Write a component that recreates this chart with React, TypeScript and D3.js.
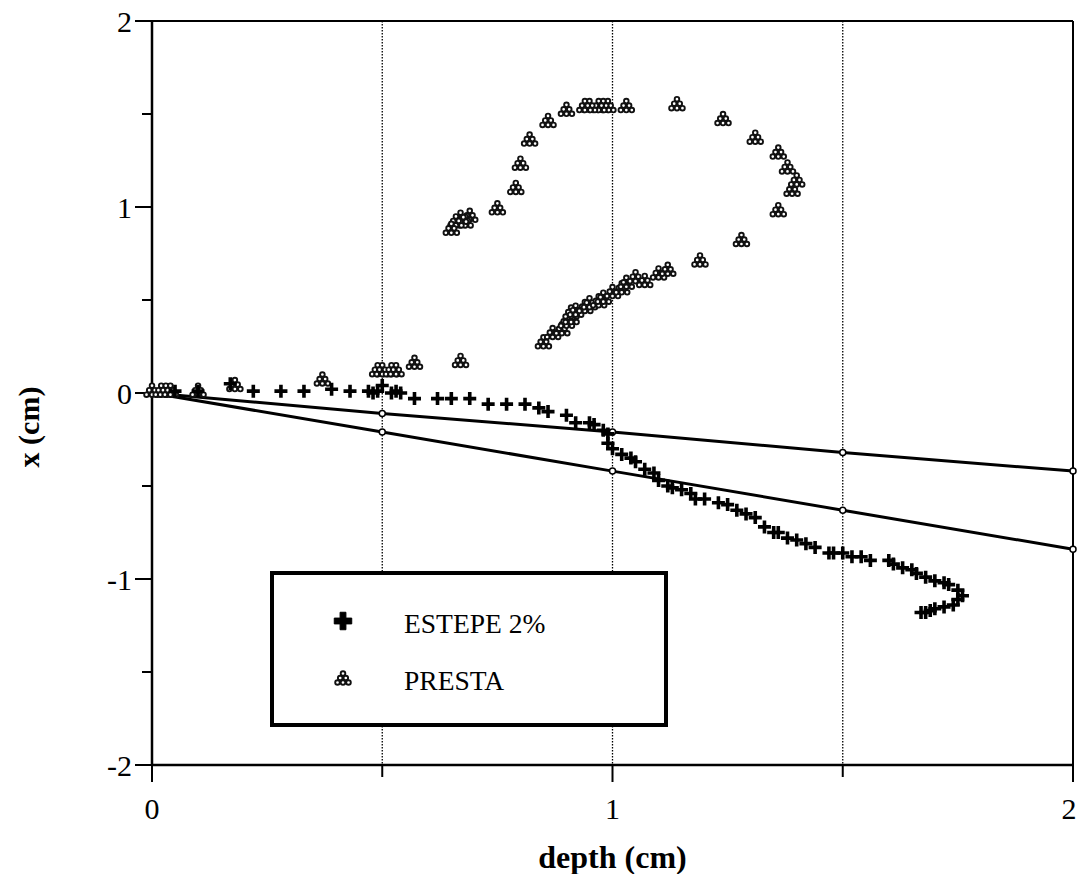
import React from 'react';
import * as d3 from 'd3';

// depth (cm) / x (cm)
const estepeDepth = [
  0.05, 0.1, 0.17, 0.22, 0.28, 0.33, 0.39, 0.43, 0.47, 0.48, 0.49, 0.5, 0.52, 0.53, 0.54,
  0.57, 0.62, 0.65, 0.69, 0.73, 0.77, 0.81, 0.84, 0.86, 0.9, 0.92, 0.95, 0.96, 0.98, 0.99,
  0.99, 1.0, 1.02, 1.04, 1.05, 1.07, 1.09, 1.1, 1.12, 1.13, 1.15, 1.17, 1.18, 1.2, 1.23,
  1.25, 1.27, 1.29, 1.31, 1.33, 1.35, 1.36, 1.38, 1.4, 1.42, 1.44, 1.47, 1.48, 1.5, 1.52,
  1.54, 1.56, 1.6, 1.61, 1.63, 1.65, 1.66, 1.68, 1.7, 1.72, 1.73, 1.75, 1.76, 1.75, 1.74,
  1.72, 1.7, 1.69, 1.68, 1.67,
];
const estepeX = [
  0.01, 0.01, 0.05, 0.01, 0.01, 0.01, 0.02, 0.01, 0.01, 0.0, 0.01, 0.04, 0.0, 0.01, 0.0,
  -0.03, -0.03, -0.03, -0.03, -0.06, -0.06, -0.06, -0.08, -0.1, -0.12, -0.16, -0.16, -0.17, -0.2, -0.22,
  -0.27, -0.3, -0.33, -0.35, -0.37, -0.41, -0.43, -0.47, -0.5, -0.51, -0.52, -0.54, -0.57, -0.57, -0.59,
  -0.6, -0.63, -0.65, -0.67, -0.72, -0.75, -0.75, -0.78, -0.79, -0.81, -0.83, -0.86, -0.86, -0.86, -0.88,
  -0.88, -0.9, -0.9, -0.92, -0.94, -0.95, -0.97, -0.99, -1.01, -1.02, -1.03, -1.06, -1.09, -1.11, -1.14,
  -1.15, -1.16, -1.17, -1.18, -1.18,
];

const prestaDepth = [
  0.0, 0.02, 0.03, 0.04, 0.1, 0.18, 0.37, 0.49, 0.5, 0.52, 0.53, 0.57, 0.67,
  0.85, 0.87, 0.89, 0.9, 0.91, 0.91, 0.92, 0.94, 0.95, 0.97, 0.98, 1.0, 1.02, 1.03,
  1.05, 1.07, 1.1, 1.12, 1.19, 1.28, 1.36, 1.39, 1.4, 1.38, 1.36, 1.31, 1.24, 1.14,
  1.03, 0.99, 0.98, 0.97, 0.95, 0.94, 0.9, 0.86, 0.82, 0.8, 0.79, 0.75, 0.69, 0.68,
  0.67, 0.66, 0.65,
];
const prestaX = [
  0.01, 0.01, 0.01, 0.01, 0.01, 0.04, 0.07, 0.12, 0.12, 0.12, 0.12, 0.16, 0.17,
  0.27, 0.32, 0.34, 0.38, 0.4, 0.43, 0.44, 0.46, 0.48, 0.49, 0.51, 0.54, 0.56, 0.59,
  0.62, 0.6, 0.64, 0.66, 0.71, 0.82, 0.98, 1.09, 1.14, 1.21, 1.29, 1.37, 1.47, 1.55,
  1.54, 1.54, 1.54, 1.54, 1.54, 1.54, 1.52, 1.46, 1.36, 1.23, 1.1, 0.99, 0.95, 0.92,
  0.94, 0.92, 0.88,
];

// two straight reference lines through the origin
const lineDepth = [0, 0.5, 1, 1.5, 2];
const line1X = [0, -0.11, -0.21, -0.32, -0.42];
const line2X = [0, -0.21, -0.42, -0.63, -0.84];

const xTicks = [0, 1, 2];
const xMinor = [0.5, 1.5];
const yTicks = [2, 1, 0, -1, -2];
const yMinor = [1.5, 0.5, -0.5, -1.5];
const gridDepth = [0.5, 1, 1.5];

const legendNames = ['ESTEPE 2%', 'PRESTA'];

const W = 1077;
const H = 874;
const left = 152;
const right = 1073;
const top = 21;
const bottom = 765;

const x = d3.scaleLinear().domain([0, 2]).range([left, right]);
const y = d3.scaleLinear().domain([-2, 2]).range([bottom, top]);

const serif = '"Liberation Serif", "Times New Roman", serif';

const Plus = ({ cx, cy }: { cx: number; cy: number }) => (
  <path d={`M${cx - 6.5},${cy}H${cx + 6.5}M${cx},${cy - 6.5}V${cy + 6.5}`} stroke="#000" strokeWidth={3.6} />
);

// little pile of dithered balls
const pile = [
  [0, -5.5],
  [-2.8, -1],
  [2.8, -1],
  [-5.5, 3.5],
  [0, 3.5],
  [5.5, 3.5],
];
const Pile = ({ cx, cy }: { cx: number; cy: number }) => (
  <g>
    {pile.map(([dx, dy], i) => (
      <circle key={i} cx={cx + dx} cy={cy + dy} r={2.3} fill="#fff" stroke="#111" strokeWidth={1.9} />
    ))}
  </g>
);

export default function App() {
  const line = d3
    .line<number>()
    .x((_, i) => x(lineDepth[i]))
    .y(d => y(d));
  const crossSym = d3.symbol().type(d3.symbolCross).size(170)();

  return (
    <svg width={W} height={H} style={{ display: 'block', position: 'absolute', left: 0, top: 0 }}>
      <rect width={W} height={H} fill="#fff" />

      {/* dotted verticals */}
      {gridDepth.map(d => (
        <line
          key={d}
          x1={x(d)}
          x2={x(d)}
          y1={top}
          y2={bottom}
          stroke="#000"
          strokeWidth={1.3}
          strokeDasharray="1.5,1.5"
        />
      ))}

      {/* frame */}
      <line x1={left} x2={right} y1={top} y2={top} stroke="#000" strokeWidth={2.2} />
      <line x1={right} x2={right} y1={top} y2={bottom} stroke="#000" strokeWidth={2} />
      <line x1={left} x2={left} y1={top} y2={bottom} stroke="#000" strokeWidth={2.5} />
      <line x1={left} x2={right} y1={bottom} y2={bottom} stroke="#000" strokeWidth={2.5} />

      {/* y ticks */}
      {yTicks.map(t => (
        <g key={t}>
          <line x1={left - 17} x2={left} y1={y(t)} y2={y(t)} stroke="#000" strokeWidth={2} />
          <text
            x={left - 20}
            y={y(t)}
            dy="0.35em"
            textAnchor="end"
            fontFamily={serif}
            fontSize={30}
          >
            {t}
          </text>
        </g>
      ))}
      {yMinor.map(t => (
        <line key={t} x1={left - 10} x2={left} y1={y(t)} y2={y(t)} stroke="#000" strokeWidth={2} />
      ))}

      {/* x ticks */}
      {xTicks.map(t => (
        <g key={t}>
          <line x1={x(t)} x2={x(t)} y1={bottom} y2={bottom + 17} stroke="#000" strokeWidth={2} />
          <text
            x={Math.min(x(t), W - 8)}
            y={808}
            dy="0.35em"
            textAnchor="middle"
            fontFamily={serif}
            fontSize={30}
          >
            {t}
          </text>
        </g>
      ))}
      {xMinor.map(t => (
        <line key={t} x1={x(t)} x2={x(t)} y1={bottom} y2={bottom + 12} stroke="#000" strokeWidth={2} />
      ))}

      {/* axis titles */}
      <text
        x={(left + right) / 2}
        y={857}
        dy="0.35em"
        textAnchor="middle"
        fontFamily={serif}
        fontSize={32}
        fontWeight="bold"
      >
        depth (cm)
      </text>
      <text
        transform={`translate(28,427) rotate(-90)`}
        dy="0.35em"
        textAnchor="middle"
        fontFamily={serif}
        fontSize={30}
        fontWeight="bold"
      >
        x (cm)
      </text>

      {/* straight lines */}
      {[line1X, line2X].map((vals, k) => (
        <g key={k}>
          <path d={line(vals) || ''} fill="none" stroke="#000" strokeWidth={3} />
          {vals.map((v, i) => (
            <circle key={i} cx={x(lineDepth[i])} cy={y(v)} r={3} fill="#fff" stroke="#000" strokeWidth={1.5} />
          ))}
        </g>
      ))}

      {/* PRESTA */}
      {prestaDepth.map((d, i) => (
        <Pile key={i} cx={x(d)} cy={y(prestaX[i])} />
      ))}

      {/* ESTEPE 2% */}
      {estepeDepth.map((d, i) => (
        <Plus key={i} cx={x(d)} cy={y(estepeX[i])} />
      ))}

      {/* legend */}
      <rect x={272} y={573} width={394} height={152} fill="#fff" stroke="#000" strokeWidth={4} />
      <path d={crossSym} transform="translate(343,621)" fill="#000" stroke="#000" strokeWidth={1} strokeLinejoin="round" />
      <Pile cx={343} cy={679} />
      {legendNames.map((n, i) => (
        <text key={n} x={404} y={623 + i * 57} dy="0.35em" fontFamily={serif} fontSize={27.5}>
          {n}
        </text>
      ))}
    </svg>
  );
}
